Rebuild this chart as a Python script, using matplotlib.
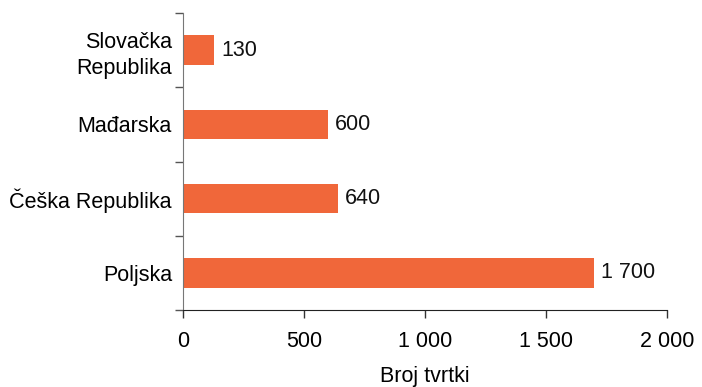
import matplotlib
matplotlib.use("Agg")
import matplotlib.pyplot as plt
from matplotlib.ticker import FuncFormatter

plt.rcParams['font.family'] = ['Liberation Sans', 'DejaVu Sans']

countries = ["Poljska", "Češka Republika", "Mađarska", "Slovačka\nRepublika"]
companies = [1700, 640, 600, 130]
x_ticks = [0, 500, 1000, 1500, 2000]
x_label = "Broj tvrtki"
bar_color = "#F0673A"
fs = 15.5


def fmt_thousands(v, pos=None):
    return f"{int(round(v)):,}".replace(",", " ")


fig = plt.figure(figsize=(7.02, 3.87), dpi=100)
ax = fig.add_axes([183 / 702, 1 - 310 / 387, (667 - 183) / 702, (310 - 13) / 387])

ypos = list(range(len(countries)))
bars = ax.barh(ypos, companies, height=0.4, color=bar_color, zorder=2)

for y, v in zip(ypos, companies):
    ax.annotate(fmt_thousands(v), xy=(v, y), xytext=(5, 0), textcoords="offset points",
                va="center", ha="left", fontsize=fs, color="#111111")

ax.set_xlim(0, 2000)
ax.set_ylim(-0.5, len(countries) - 0.5)
ax.set_xticks(x_ticks)
ax.xaxis.set_major_formatter(FuncFormatter(fmt_thousands))
ax.set_yticks(ypos)
ax.set_yticklabels(countries, fontsize=fs, linespacing=1.35)
ax.set_yticks([i - 0.5 for i in range(len(countries) + 1)], minor=True)
ax.tick_params(axis="y", which="major", length=0, pad=8)
ax.tick_params(axis="y", which="minor", length=6, width=1, color="#555555", direction="out")
ax.tick_params(axis="x", which="major", length=6, width=1, color="#333333",
               direction="out", labelsize=fs, pad=9)

for s in ["top", "right"]:
    ax.spines[s].set_visible(False)
ax.spines["left"].set_color("#777777")
ax.spines["bottom"].set_color("#222222")

ax.set_xlabel(x_label, fontsize=fs, labelpad=10.5)

fig.savefig("out.png", dpi=100)
